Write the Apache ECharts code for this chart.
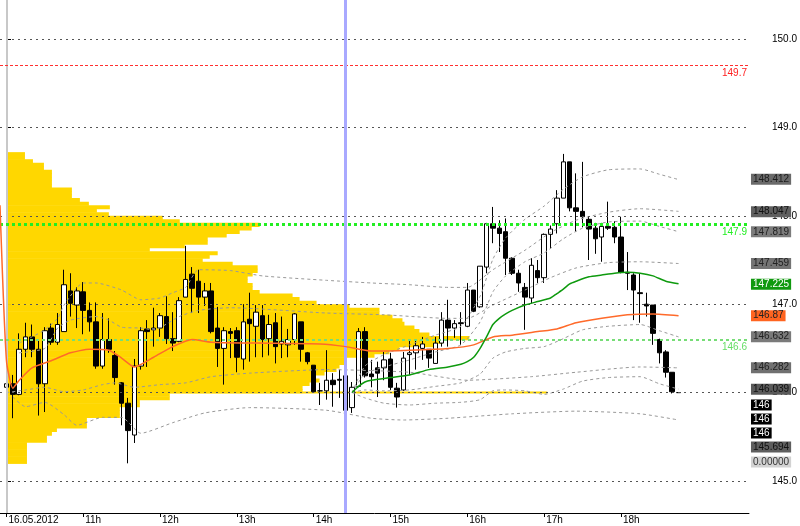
<!DOCTYPE html>
<html><head><meta charset="utf-8">
<script src="https://cdn.jsdelivr.net/npm/echarts@6/dist/echarts.min.js"></script>
<style>html,body{margin:0;padding:0;background:#fff}#c{width:800px;height:526px}</style>
</head><body><div id="c"></div>
<script>
// ---- candles (M5 bars, 16.05.2012 10:00 ... 18:45) ----
const open = [
146.06,146.10,145.98,146.49,146.63,146.49,146.10,146.73,146.57,146.69,
147.15,146.99,147.14,146.93,146.80,146.30,146.60,146.42,146.11,145.88,
145.52,146.30,146.72,146.71,146.73,146.86,146.61,146.58,147.08,147.34,
147.26,147.08,147.15,146.73,146.50,146.69,146.70,146.38,146.83,146.75,
146.87,146.61,146.79,146.55,146.54,146.60,146.80,146.45,146.31,146.02,
146.02,146.14,146.15,146.19,145.83,146.07,146.69,146.21,146.28,146.28,
146.38,146.05,146.03,146.43,146.45,146.50,146.49,146.33,146.56,146.82,
146.73,146.79,146.75,147.16,146.97,147.42,147.91,147.86,147.82,147.52,
147.35,147.19,147.07,147.38,147.30,147.79,147.91,148.20,148.61,148.09,
148.05,147.96,147.86,147.76,147.88,147.87,147.76,147.36,147.33,147.13,
147.00,146.99,146.60,146.46,146.23,146.00];
const close = [
146.10,145.98,146.49,146.63,146.49,146.10,146.70,146.57,146.77,147.22,
147.01,147.15,146.93,146.80,146.30,146.60,146.49,146.17,145.88,145.57,
146.30,146.70,146.69,146.73,146.87,146.61,146.56,147.04,147.28,147.18,
147.08,147.15,146.69,146.50,146.70,146.67,146.40,146.80,146.78,146.91,
146.60,146.77,146.52,146.58,146.60,146.89,146.49,146.35,146.01,146.02,
146.14,146.09,146.14,145.80,146.06,146.69,146.19,146.18,146.22,146.37,
146.06,145.95,146.39,146.45,146.53,146.55,146.39,146.56,146.82,146.73,
146.78,146.78,147.16,146.92,147.43,147.91,147.86,147.80,147.52,147.35,
147.24,147.08,147.44,147.30,147.79,147.85,148.20,148.61,148.09,148.05,
147.99,147.85,147.74,147.88,147.86,147.76,147.36,147.35,147.16,147.12,
146.98,146.67,146.45,146.23,146.01,146.00];
const low = [
145.46,145.71,145.97,146.40,146.40,145.74,145.78,146.54,146.54,146.69,
146.86,146.73,146.66,146.69,146.27,146.27,146.45,146.09,145.63,145.20,
145.43,146.26,146.29,146.52,146.63,146.55,146.47,146.57,147.08,146.90,
146.90,146.98,146.67,146.29,146.09,146.39,146.23,146.26,146.35,146.40,
146.40,146.42,146.33,146.39,146.40,146.54,146.35,146.32,146.01,145.86,
145.92,145.84,145.94,145.71,145.77,146.06,146.17,146.06,145.95,146.14,
146.03,145.83,146.02,146.20,146.26,146.37,146.28,146.33,146.52,146.52,
146.62,146.54,146.74,146.91,146.96,147.35,147.69,147.59,147.33,147.33,
147.14,146.71,147.01,147.24,147.24,147.63,147.80,148.20,148.05,147.82,
147.87,147.50,147.57,147.48,147.84,147.69,147.35,147.16,146.82,146.79,
146.86,146.54,146.33,146.17,145.99,146.00];
const high = [
146.40,146.20,146.67,146.79,146.77,146.60,146.74,146.78,146.90,147.39,
147.35,147.19,147.25,147.02,147.02,146.90,146.84,146.47,146.12,145.94,
146.38,146.74,146.82,146.96,146.90,147.09,146.91,147.08,147.66,147.42,
147.39,147.24,147.24,146.97,146.74,146.73,146.74,147.00,147.13,146.99,
146.99,146.88,146.90,146.86,146.72,146.90,146.80,146.46,146.31,146.11,
146.48,146.22,146.26,146.35,146.12,146.73,146.74,146.37,146.35,146.46,
146.45,146.11,146.46,146.60,146.60,146.63,146.49,146.63,146.91,147.05,
146.82,146.91,147.24,147.16,147.43,147.92,148.10,147.95,147.97,147.53,
147.39,147.24,147.52,147.50,147.80,147.89,148.29,148.70,148.61,148.48,
148.61,147.99,147.92,147.92,148.16,147.94,147.99,147.59,147.35,147.35,
147.13,146.99,146.61,146.48,146.23,146.00];

// ---- x tick labels ----
const tickTimes = ['10:00','11:00','12:00','13:00','14:00','15:00','16:00','17:00','18:00'];
const tickTexts = ['16.05.2012','11h','12h','13h','14h','15h','16h','17h','18h'];

// ---- moving averages & bands: [bar index, price] ----
const orangeMA = [[0,148.12],[1,146.37],[2,146.05],[3,146.14],[5,146.28],[8,146.36],[11,146.45],[14,146.49],[17,146.48],[19,146.39],[21,146.29],[24,146.40],[27,146.52],[30,146.60],[33,146.57],[40,146.56],[50,146.55],[54,146.52],[58,146.47],[64,146.48],[70,146.50],[74,146.54],[77,146.63],[80,146.65],[84,146.69],[87,146.72],[90,146.79],[94,146.84],[98,146.88],[102,146.89],[106,146.87]];
const orangeUp1 = [[3,146.45],[7,146.50],[9,146.73],[11,146.82],[15,146.86],[17,146.82],[19,146.74],[22,146.73],[24,146.71],[28,146.86],[31,146.93],[36,146.96],[51,146.90],[60,146.88],[70,146.84],[73,146.84],[77,146.99],[82,147.16],[86,147.30],[90,147.41],[95,147.47],[100,147.48],[106,147.46]];
const orangeUp2 = [[3,146.56],[5,146.63],[7,146.71],[9,146.84],[10,146.99],[13,147.24],[15,147.24],[19,147.16],[22,147.05],[25,147.07],[27,147.13],[29,147.19],[31,147.39],[36,147.38],[41,147.32],[51,147.27],[58,147.24],[64,147.22],[70,147.19],[73,147.19],[77,147.39],[82,147.61],[86,147.81],[90,147.95],[95,148.04],[100,148.08],[106,148.05]];
const orangeLo1 = [[1,146.00],[4,146.03],[7,146.06],[10,146.01],[13,146.03],[16,146.09],[18,146.11],[21,146.06],[25,146.09],[29,146.11],[33,146.18],[39,146.22],[51,146.26],[64,146.23],[73,146.14],[83,146.18],[90,146.23],[100,146.29],[106,146.28]];
const orangeLo2 = [[2,145.95],[4,145.84],[7,145.89],[10,145.75],[12,145.63],[16,145.72],[19,145.72],[22,145.54],[27,145.66],[32,145.77],[39,145.83],[51,145.80],[58,145.71],[63,145.69],[70,145.71],[80,145.76],[90,145.79],[100,145.76],[106,145.69]];
const greenMA = [[55,146.00],[56,146.07],[57,146.12],[58,146.14],[61,146.17],[64,146.20],[67,146.26],[70,146.29],[72,146.32],[73,146.35],[74,146.40],[75,146.50],[76,146.63],[77,146.77],[78,146.84],[79,146.89],[80,146.93],[82,146.99],[84,147.03],[86,147.07],[87,147.12],[88,147.17],[89,147.23],[90,147.26],[92,147.31],[94,147.33],[96,147.35],[98,147.36],[100,147.35],[102,147.32],[104,147.26],[106,147.23]];
const greenUp1 = [[55,146.00],[57,146.21],[60,146.29],[64,146.37],[68,146.46],[72,146.54],[75,146.80],[77,147.14],[79,147.32],[82,147.48],[85,147.58],[88,147.74],[91,147.86],[95,147.93],[100,147.94],[103,147.88],[106,147.82]];
const greenUp2 = [[55,146.00],[57,146.30],[60,146.43],[64,146.54],[68,146.65],[72,146.75],[75,147.09],[77,147.51],[79,147.75],[82,147.96],[85,148.11],[88,148.30],[91,148.44],[95,148.52],[100,148.53],[103,148.47],[106,148.41]];
const greenLo1 = [[55,146.00],[57,146.03],[60,146.02],[64,146.03],[68,146.07],[72,146.11],[75,146.21],[77,146.39],[79,146.46],[82,146.50],[85,146.52],[88,146.61],[91,146.71],[95,146.75],[100,146.77],[103,146.70],[106,146.63]];
const greenLo2 = [[55,146.00],[57,145.94],[60,145.88],[64,145.86],[68,145.88],[72,145.89],[75,145.92],[77,146.02],[79,146.03],[82,146.02],[85,145.98],[88,146.04],[91,146.13],[95,146.17],[100,146.18],[103,146.10],[106,146.04]];

// ---- volume profile (top price, bin size, volumes from top to bottom) ----
const profileTop = 148.72;
const profileStep = 0.04;
const profileVolumes = [18,18,26,37,37,45,45,45,45,45,
 65,65,65,73,82,103,90,102,156,173,
 253,245,233,220,201,201,178,143,211,203,
 196,226,251,251,246,241,241,246,246,253,
 286,293,310,343,373,373,386,396,398,408,
 413,423,463,436,431,393,383,368,340,338,
 333,330,318,306,313,303,296,296,163,163,
 133,133,113,113,113,80,80,80,50,45,
 40,40,20,20,20,20,20,20];
const profileLinePrice = 146.0;
const profileLineVolume = 541;

// ---- horizontal levels ----
const gridLevels = [145,146,147,148,149,150];
const levelValues = [149.7, 147.9, 146.6];
const levelTexts = ['149.7','147.9','146.6'];

// ---- right-side price boxes ----
const boxTexts  = ['148.412','148.047','147.819','147.459','147.225','146.87','146.632','146.282','146.039','146','146','146','145.694','0.00000'];
const boxPrices = [148.412,148.047,147.819,147.459,147.225,146.87,146.632,146.282,146.039,145.860,145.701,145.543,145.385,145.215];

// categories: one per 5 minutes
const categories = [];
for (let i = 0; i < 118; i++) {
  const m = 9*60 + 55 + i*5;
  categories.push(String(Math.floor(m/60)).padStart(2,'0') + ':' + String(m%60).padStart(2,'0'));
}
const tickIdx = tickTimes.map(t => categories.indexOf(t));

const candleData = ['-'];
for (let i = 0; i < open.length; i++) candleData.push([open[i], close[i], low[i], high[i]]);

const boxBg = ['#6a6a6a','#606060','#7c7c7c','#747474','#10990f','#ff6420','#7a7a7a','#707070','#5a5a5a','#000','#000','#000','#5e5e5e','#d2d2d2'];
const boxFg = ['#1c1c1c','#111','#222','#222','#fff','#222','#222','#222','#111','#fff','#fff','#fff','#111','#333'];

const bandStyle = {color:'#999', width:1, type:[3,3]};
function lineSeries(data, style, z) {
  return {type:'line', data, symbol:'none', smooth:0.2, silent:true, z, lineStyle:style, connectNulls:true};
}

const chart = echarts.init(document.getElementById('c'), null, {renderer:'canvas'});
chart.setOption({
  animation:false,
  backgroundColor:'#fff',
  grid:{left:0, right:50, top:0, bottom:13, containLabel:false},
  xAxis:[{
    type:'category', data:categories, boundaryGap:false,
    axisLine:{lineStyle:{color:'#000', width:1}},
    axisTick:{show:true, length:4, interval:(i)=>tickIdx.includes(i), lineStyle:{color:'#000'}},
    axisLabel:{interval:(i)=>tickIdx.includes(i), formatter:(v)=>tickTexts[tickTimes.indexOf(v)] || '',
      align:'left', margin:2, padding:[0,0,0,2], fontSize:10, color:'#000', fontFamily:'Liberation Sans, Arial'},
    splitLine:{show:false}
  },{
    type:'value', min:-7, max:743, show:false
  }],
  yAxis:{
    type:'value', position:'right', min:144.638, max:150.441, splitNumber:6, scale:true,
    axisLine:{show:true, lineStyle:{color:'#000'}},
    axisTick:{show:true, length:4, lineStyle:{color:'#000'}},
    axisLabel:{showMinLabel:false, showMaxLabel:false, margin:23, fontSize:10, color:'#000',
      fontFamily:'Liberation Sans, Arial', formatter:(v)=>v.toFixed(1)},
    splitLine:{show:false}
  },
  series:[
    {type:'custom', xAxisIndex:1, z:1, silent:true,
     data: profileVolumes.map((v,k)=>[v, profileTop - k*profileStep]),
     renderItem:(params, api)=>{
       const v = api.value(0), top = api.value(1);
       const p1 = api.coord([0, top]), p2 = api.coord([v, top - profileStep]);
       return {type:'rect', shape:{x:p1[0], y:p1[1], width:p2[0]-p1[0], height:p2[1]-p1[1]+0.6}, style:{fill:'#ffd700'}};
     }},
    {type:'line', xAxisIndex:1, z:1, silent:true, symbol:'none',
     data:[[0,profileLinePrice],[profileLineVolume,profileLinePrice]], lineStyle:{color:'#ffd700', width:2}},
    {type:'line', data:[], z:2, silent:true,
     markLine:{silent:true, symbol:'none', label:{show:false}, animation:false,
       lineStyle:{color:'#555', width:1, type:[2,4]},
       data: gridLevels.map(v=>({yAxis:v}))}},
    {type:'line', data:[], z:2, silent:true,
     markLine:{silent:true, symbol:'none', label:{show:false}, animation:false,
       data:[{xAxis:categories[1], lineStyle:{color:'#c8c8c8', width:2, type:'solid'}}]}},
    {type:'candlestick', data:candleData, z:3, barWidth:5, silent:true,
     itemStyle:{color:'#fff', color0:'#000', borderColor:'#000', borderColor0:'#000', borderWidth:1}},
    lineSeries(orangeUp2, bandStyle, 4),
    lineSeries(orangeUp1, bandStyle, 4),
    lineSeries(orangeLo1, bandStyle, 4),
    lineSeries(orangeLo2, bandStyle, 4),
    lineSeries(greenUp2, bandStyle, 4),
    lineSeries(greenUp1, bandStyle, 4),
    lineSeries(greenLo1, bandStyle, 4),
    lineSeries(greenLo2, bandStyle, 4),
    lineSeries(orangeMA, {color:'#ff6a2a', width:1.5}, 5),
    lineSeries(greenMA, {color:'#0e9a0e', width:1.5}, 5),
    {type:'line', data:[], z:6, silent:true,
     markLine:{silent:true, symbol:'none', animation:false,
       data:[
         {yAxis:levelValues[0], lineStyle:{color:'#ff3030', width:1, type:[3,2]},
          label:{show:true, formatter:levelTexts[0], position:'insideEndBottom', color:'#ff2020', fontSize:10, distance:[2,3], fontFamily:'Liberation Sans, Arial'}},
         {yAxis:levelValues[1], lineStyle:{color:'#22ee22', width:3, type:[3,3]},
          label:{show:true, formatter:levelTexts[1], position:'insideEndBottom', color:'#22ee22', fontSize:10, distance:[2,3], fontFamily:'Liberation Sans, Arial'}},
         {yAxis:levelValues[2], lineStyle:{color:'#77dd77', width:2, type:[3,3]},
          label:{show:true, formatter:levelTexts[2], position:'insideEndBottom', color:'#66dd66', fontSize:10, distance:[2,3], fontFamily:'Liberation Sans, Arial'}},
         {xAxis:categories[54], lineStyle:{color:'#a9a9ff', width:3, type:'solid'}, label:{show:false}}
       ]}},
    {type:'custom', z:10, silent:true, clip:false,
     data: boxPrices.map((p,k)=>[categories.length-1, p, k]),
     renderItem:(params, api)=>{
       const k = api.value(2);
       const pt = api.coord([api.value(0), api.value(1)]);
       return {type:'text', x:pt[0]+2, y:pt[1], z2:10, style:{text:boxTexts[k], fill:boxFg[k],
         backgroundColor:boxBg[k], padding:[1,2,0,2], font:'10px "Liberation Sans", Arial',
         verticalAlign:'middle', align:'left', lineHeight:10}};
     }}
  ]
});
</script>
</body></html>
